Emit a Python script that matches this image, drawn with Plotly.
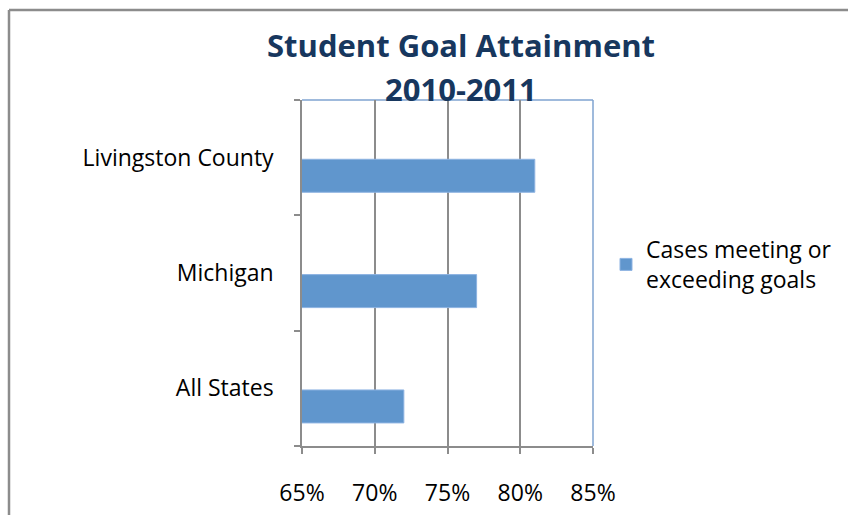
import plotly.graph_objects as go

categories = ["All States", "Michigan", "Livingston County"]
values = [0.72, 0.77, 0.81]
series_name = "Cases meeting or<br>exceeding goals"
x_ticks = [0.65, 0.70, 0.75, 0.80, 0.85]
x_tick_labels = ["65%", "70%", "75%", "80%", "85%"]
title_lines = ["Student Goal Attainment", "2010-2011"]

W, H = 848, 515
L, R, T, B = 302, 593, 100, 446  # plot area pixel box
FONT = "Open Sans"

def px(xp):
    return (xp - L) / (R - L)

def py(yp):
    return (B - yp) / (B - T)

fig = go.Figure()
fig.add_trace(go.Bar(
    y=categories, x=values, orientation="h", name=series_name,
    width=0.286, offset=-0.30,
    marker=dict(color="#6096CD", line=dict(color="#8DB3E2", width=1)),
    showlegend=True,
))

title_y = [45, 89]
annotations = [
    dict(text="<b>%s</b>" % t, x=px(461), y=py(yy), xref="paper", yref="paper",
         xanchor="center", yanchor="middle", showarrow=False,
         font=dict(family=FONT, size=31, color="#17375E"))
    for t, yy in zip(title_lines, title_y)
]

fig.update_layout(
    width=W, height=H,
    margin=dict(l=L, r=W - R, t=T, b=H - B, pad=0, autoexpand=False),
    paper_bgcolor="white", plot_bgcolor="white",
    font=dict(family=FONT, size=23, color="#000000"),
    annotations=annotations,
    showlegend=True,
    legend=dict(
        x=px(606), y=py(228), xref="paper", yref="paper",
        xanchor="left", yanchor="top",
        font=dict(family=FONT, size=23, color="#000000"),
        bgcolor="rgba(0,0,0,0)",
        itemwidth=30,
    ),
    xaxis=dict(
        range=[0.65, 0.85], tickvals=x_ticks, ticktext=x_tick_labels,
        showgrid=True, gridcolor="#8C8C8C", gridwidth=1.5,
        showline=True, linecolor="#8C8C8C", linewidth=1.5,
        ticks="outside", ticklen=6, tickcolor="#8C8C8C", tickwidth=1.5,
        ticklabelstandoff=20, zeroline=False, fixedrange=True, automargin=False,
    ),
    yaxis=dict(
        categoryorder="array", categoryarray=categories,
        showgrid=False, showline=True, linecolor="#8C8C8C", linewidth=1.5,
        ticks="outside", ticklen=6, tickcolor="#8C8C8C", tickwidth=1.5,
        tickson="boundaries", ticklabelstandoff=22, fixedrange=True, automargin=False,
    ),
    shapes=[
        dict(type="line", xref="paper", yref="paper", x0=0, x1=1, y0=1, y1=1,
             line=dict(color="#7FA3D1", width=1.5), layer="below"),
        dict(type="line", xref="paper", yref="paper", x0=1, x1=1, y0=0, y1=1,
             line=dict(color="#7FA3D1", width=1.5), layer="above"),
        dict(type="line", xref="paper", yref="paper", x0=px(9), x1=px(9), y0=py(10), y1=py(530),
             line=dict(color="#8C8C8C", width=2.5)),
        dict(type="line", xref="paper", yref="paper", x0=px(9), x1=px(860), y0=py(10), y1=py(10),
             line=dict(color="#8C8C8C", width=2.5)),
    ],
)

fig.write_html("out.html")
